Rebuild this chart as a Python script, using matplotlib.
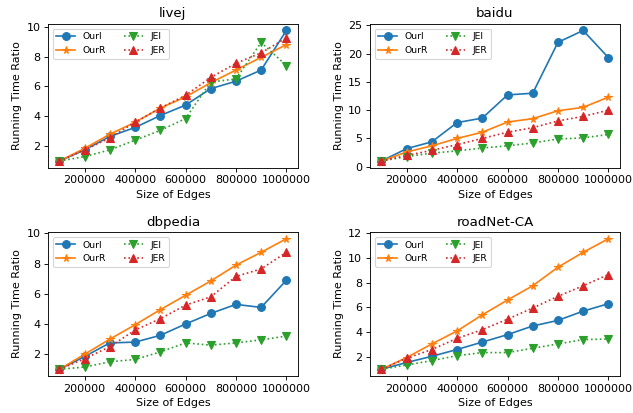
import numpy as np
import matplotlib
matplotlib.use("Agg")
import matplotlib.pyplot as plt

edges = [100000, 200000, 300000, 400000, 500000, 600000, 700000, 800000, 900000, 1000000]

# livej
livej_ouri = [1.0, 1.75, 2.65, 3.25, 4.05, 4.75, 5.85, 6.35, 7.1, 9.75]
livej_ourr = [1.0, 1.85, 2.8, 3.6, 4.55, 5.3, 6.25, 7.1, 7.95, 8.8]
livej_jei = [1.0, 1.3, 1.75, 2.4, 3.05, 3.85, 6.3, 6.5, 8.95, 7.4]
livej_jer = [1.0, 1.75, 2.55, 3.6, 4.55, 5.4, 6.6, 7.55, 8.25, 9.25]

# baidu
baidu_ouri = [1.0, 3.2, 4.4, 7.8, 8.6, 12.7, 13.0, 22.0, 24.1, 19.3]
baidu_ourr = [1.0, 2.6, 3.7, 5.0, 6.1, 7.9, 8.5, 9.9, 10.5, 12.3]
baidu_jei = [1.0, 1.8, 2.4, 2.8, 3.3, 3.7, 4.2, 4.9, 5.1, 5.7]
baidu_jer = [1.0, 2.0, 2.9, 3.9, 5.0, 6.1, 6.9, 8.1, 8.9, 10.0]

# dbpedia
dbpedia_ouri = [1.0, 1.85, 2.75, 2.8, 3.25, 4.0, 4.7, 5.3, 5.1, 6.9]
dbpedia_ourr = [1.0, 2.0, 3.0, 3.95, 4.95, 5.9, 6.85, 7.9, 8.75, 9.65]
dbpedia_jei = [1.0, 1.15, 1.5, 1.65, 2.15, 2.75, 2.6, 2.75, 2.95, 3.2]
dbpedia_jer = [1.0, 1.7, 2.5, 3.6, 4.35, 5.25, 5.8, 7.15, 7.65, 8.75]

# roadNet-CA
road_ouri = [1.0, 1.55, 2.05, 2.6, 3.2, 3.8, 4.5, 4.95, 5.7, 6.3]
road_ourr = [1.0, 1.95, 3.05, 4.1, 5.4, 6.6, 7.75, 9.25, 10.45, 11.55]
road_jei = [1.0, 1.35, 1.7, 2.1, 2.35, 2.35, 2.7, 3.05, 3.4, 3.45]
road_jer = [1.0, 1.9, 2.6, 3.5, 4.2, 5.05, 5.95, 6.9, 7.75, 8.65]

datasets = [
    ("livej", livej_ouri, livej_ourr, livej_jei, livej_jer),
    ("baidu", baidu_ouri, baidu_ourr, baidu_jei, baidu_jer),
    ("dbpedia", dbpedia_ouri, dbpedia_ourr, dbpedia_jei, dbpedia_jer),
    ("roadNet-CA", road_ouri, road_ourr, road_jei, road_jer),
]

fig, axes = plt.subplots(2, 2, figsize=(633 / 80, 413 / 80), dpi=80)

for ax, (name, ouri, ourr, jei, jer) in zip(axes.flat, datasets):
    ax.plot(edges, ouri, "o-", ms=7, label="OurI")
    ax.plot(edges, ourr, "*-", ms=7, label="OurR")
    ax.plot(edges, jei, "v:", ms=7, label="JEI")
    ax.plot(edges, jer, "^:", ms=7, label="JER")
    ax.set_title(name)
    ax.set_xlabel("Size of Edges")
    ax.set_ylabel("Running Time Ratio")
    ax.ticklabel_format(style="plain", axis="x", useOffset=False)
    ax.legend(ncol=2, loc="upper left", fontsize="small")

plt.subplots_adjust(left=0.076, right=0.979, bottom=0.09, top=0.942,
                    wspace=0.29, hspace=0.45)
plt.savefig("out.png", dpi=80)
